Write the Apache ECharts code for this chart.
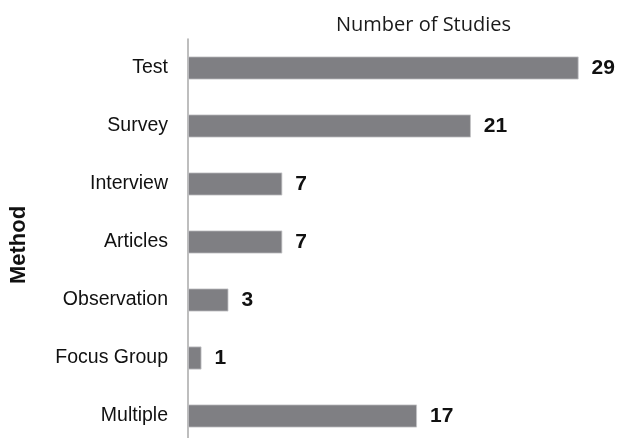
<!DOCTYPE html>
<html>
<head>
<meta charset="utf-8">
<script src="https://cdn.jsdelivr.net/npm/echarts@6/dist/echarts.min.js"></script>
<style>html,body{margin:0;padding:0;background:#fff}#c{width:619px;height:438px}</style>
</head>
<body>
<div id="c"></div>
<script>
const categories = ["Test", "Survey", "Interview", "Articles", "Observation", "Focus Group", "Multiple"];
const studies = [29, 21, 7, 7, 3, 1, 17];
const xTitle = "Number of Studies";
const yTitle = "Method";

const chart = echarts.init(document.getElementById('c'), null, {renderer: 'canvas'});
chart.setOption({
  animation: false,
  backgroundColor: '#ffffff',
  title: {
    text: xTitle,
    left: 331, top: 10,
    textStyle: {fontFamily: 'Open Sans', fontSize: 20, fontWeight: 'normal', color: '#1a1a1a'}
  },
  grid: {left: 188, top: 39, width: 390.6, height: 406, containLabel: false, outerBoundsMode: 'none'},
  xAxis: {
    type: 'value', min: 0, max: 29,
    show: false
  },
  yAxis: {
    type: 'category', data: categories, inverse: true,
    axisLine: {show: true, lineStyle: {color: '#a8a8a8', width: 1.5}},
    axisTick: {show: false},
    axisLabel: {margin: 20, fontFamily: 'Liberation Sans', fontSize: 19.5, color: '#111'},
    name: yTitle, nameLocation: 'middle', nameRotate: 90, nameGap: 158,
    nameTextStyle: {fontFamily: 'Liberation Sans', fontSize: 22, fontWeight: 'bold', color: '#111', padding: [0, 6, 0, 0]}
  },
  series: [{
    type: 'bar', data: studies, barWidth: 23,
    itemStyle: {color: '#7f7f83', borderColor: '#c4c4c6', borderWidth: 0.8},
    label: {show: true, position: 'right', distance: 13,
      fontFamily: 'Liberation Sans', fontSize: 21, fontWeight: 'bold', color: '#111'}
  }]
});
</script>
</body>
</html>
